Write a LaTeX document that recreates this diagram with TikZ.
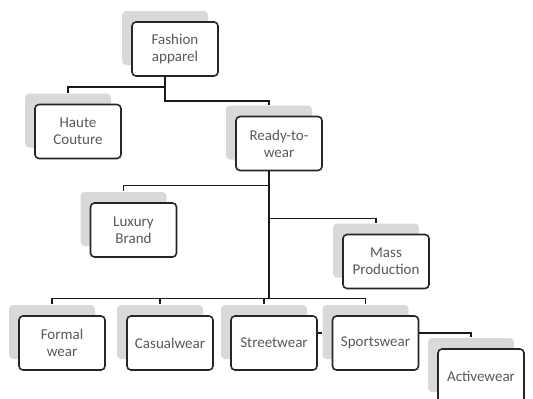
\documentclass[tikz,border=0pt]{standalone}
\usepackage{fontspec}
\setmainfont{Carlito}
\usetikzlibrary{shadows}

\begin{document}
\begin{tikzpicture}[x=1pt,y=-1pt]
        \tikzstyle{box}=[draw=black!85,line width=1.6pt,rounded corners=4pt,fill=white,text=black!65,
                minimum width=86pt,minimum height=54pt,align=center,inner sep=1pt,
                font=\fontsize{15}{17}\selectfont,
                general shadow={fill=black!15,shadow xshift=-10pt,shadow yshift=11pt}]
        \tikzstyle{link}=[draw=black!90,line width=1.4pt]
        \clip (0,0) rectangle (533,399);
        \node[box] (fa) at (175,49) {Fashion\\apparel};
        \node[box] (hc) at (78,131.5) {Haute\\Couture};
        \node[box] (rtw) at (279,143.5) {Ready-to-\\wear};
        \node[box] (lb) at (133.5,230) {Luxury\\Brand};
        \node[box] (mp) at (386,261.5) {Mass\\Production};
        \node[box] (fw) at (62,343) {Formal\\wear};
        \node[box] (cw) at (170,343) {Casualwear};
        \node[box] (sw) at (274,343) {Streetwear};
        \node[box] (sp) at (375.5,343) {Sportswear};
        \node[box] (aw) at (481,376) {Activewear};
        % links
        \draw[link] ([xshift=-10pt]fa.south) -- ++(0,10) -| ([xshift=-10pt,yshift=11pt]hc.north);
        \draw[link] ([xshift=-10pt]fa.south) -- ++(0,24) -| ([xshift=-10pt,yshift=11pt]rtw.north);
        \draw[link] ([xshift=-10pt]rtw.south) -- ++(0,14) -| ([xshift=-10pt,yshift=11pt]lb.north);
        \draw[link] ([xshift=-10pt]rtw.south) -- ++(0,47) -| ([xshift=-10pt,yshift=11pt]mp.north);
        \draw[link,line width=2pt] ([xshift=-10pt]rtw.south) -- ++(0,127) coordinate (split);
        \foreach \n in {fw,cw,sw,sp}
                \draw[link] (split) -| ([xshift=-10pt,yshift=11pt]\n.north);
        \draw[link] ([yshift=10pt]sw.east) -- ([xshift=-10pt,yshift=10pt]sp.west);
        \draw[link] ([yshift=10pt]sp.east) -| ([xshift=-10pt,yshift=11pt]aw.north);
\end{tikzpicture}
\end{document}
